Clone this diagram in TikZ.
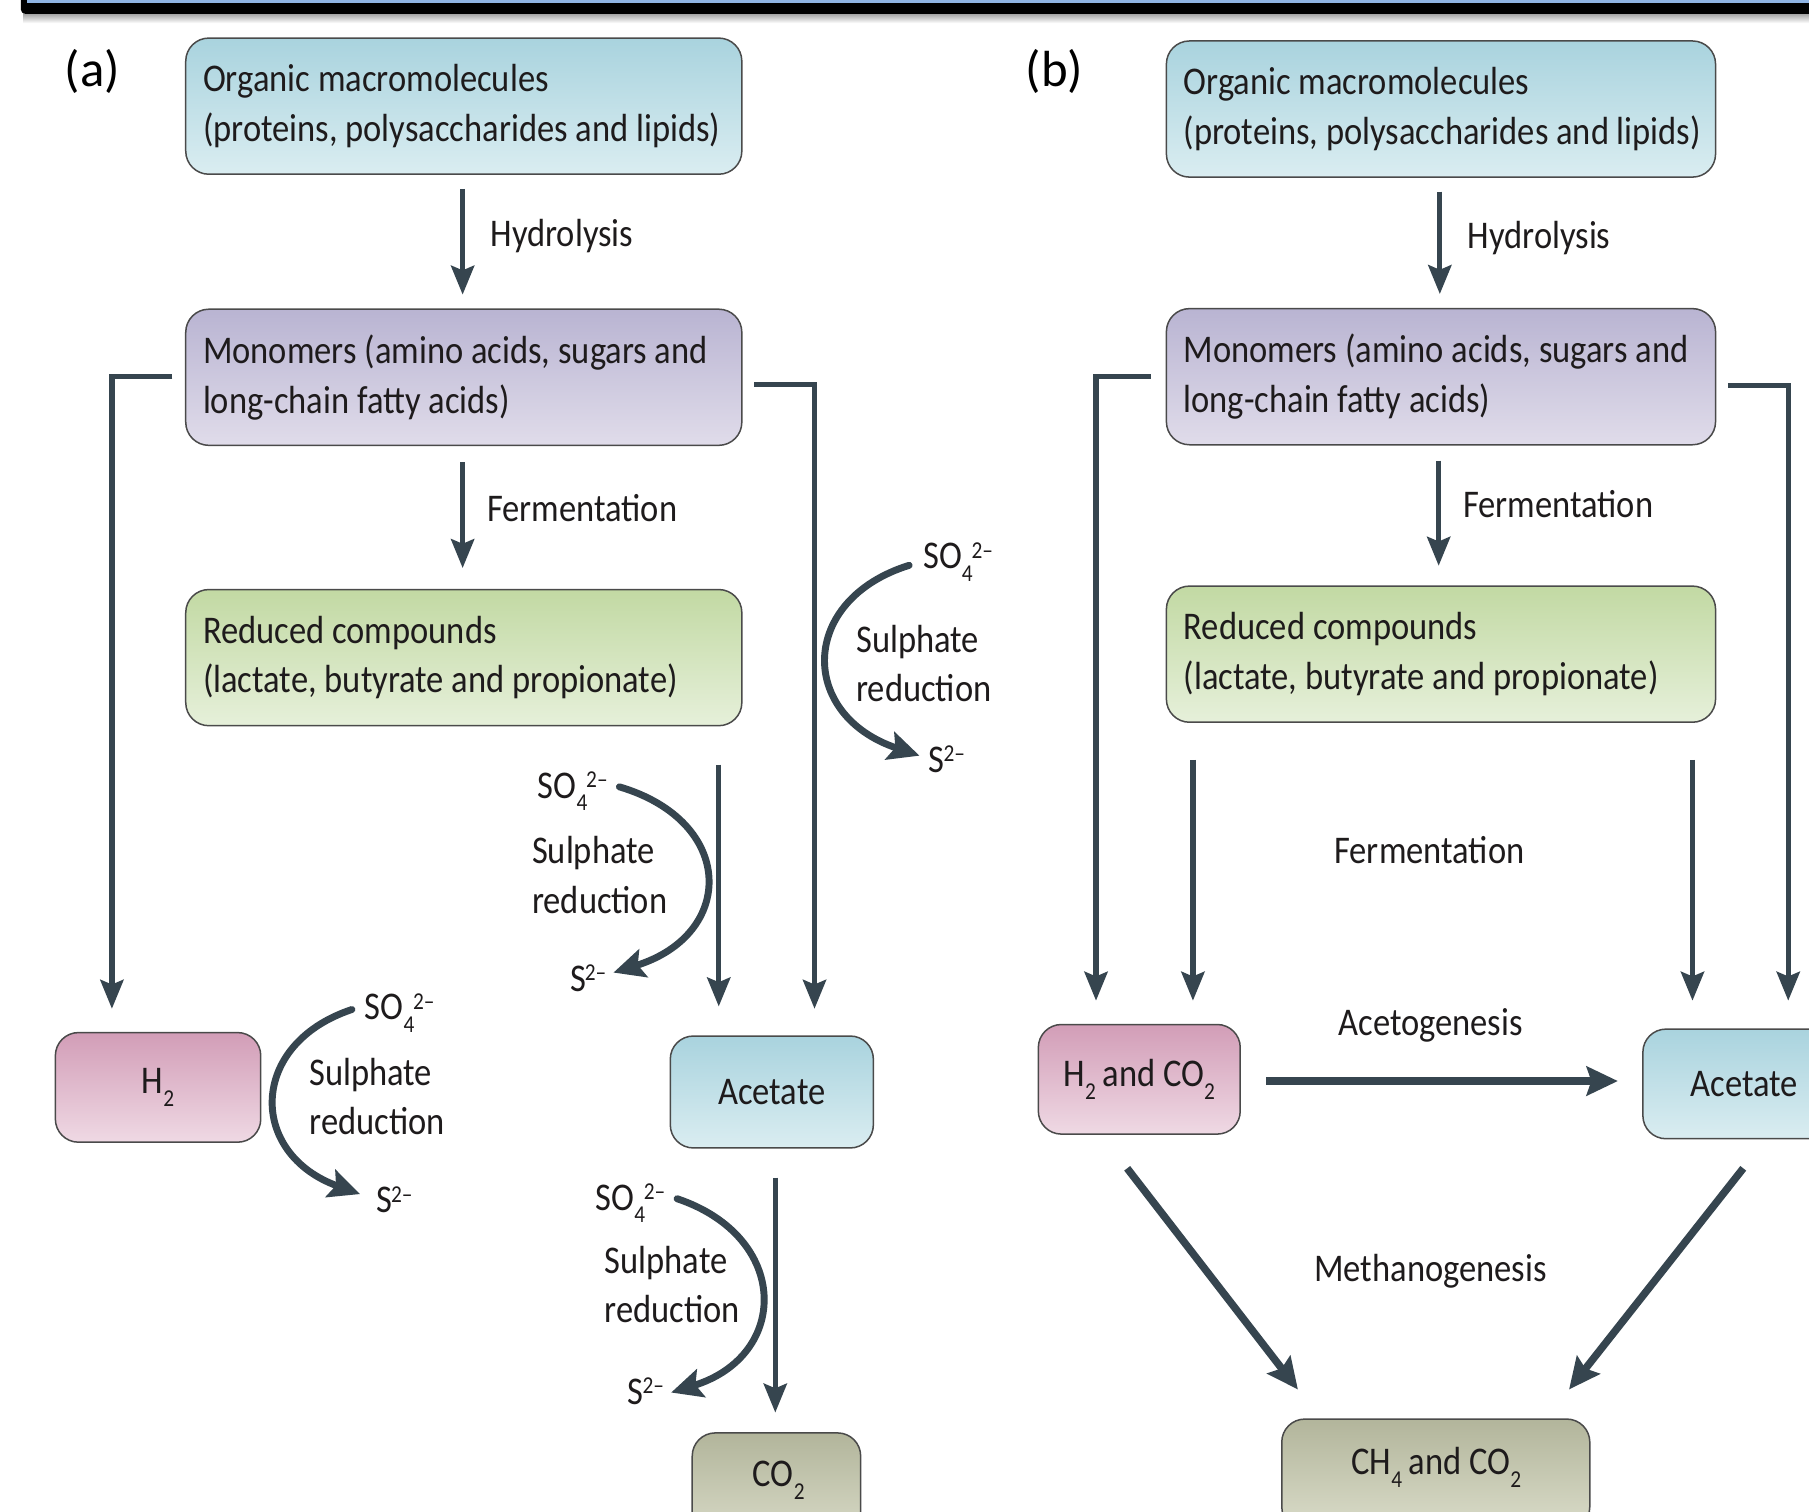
\documentclass[tikz,border=0pt]{standalone}
\usepackage{fontspec}
\setmainfont{Carlito}
\newfontfamily\dfont[FakeStretch=0.88]{Carlito}
\usetikzlibrary{arrows.meta,calc}
\definecolor{ink}{HTML}{1E1B1C}
\definecolor{arrc}{HTML}{36454F}
\definecolor{boxline}{HTML}{4A4A4A}
\definecolor{blueT}{HTML}{A9D3DE}\definecolor{blueB}{HTML}{DAEDF1}
\definecolor{purT}{HTML}{B9B4D2}\definecolor{purB}{HTML}{E0DCEA}
\definecolor{grnT}{HTML}{C2D9A3}\definecolor{grnB}{HTML}{E6F0DA}
\definecolor{pnkT}{HTML}{D29DB7}\definecolor{pnkB}{HTML}{EFD9E4}
\definecolor{oliT}{HTML}{B2B59B}\definecolor{oliB}{HTML}{DADCC9}
\definecolor{barblue}{HTML}{8FB4E3}
\newcommand{\mainfnt}{\dfont\fontsize{34}{43}\selectfont}
\newcommand{\smallfnt}{\dfont\fontsize{21}{21}\selectfont}
\newcommand{\subx}[1]{\raisebox{-11pt}{\smallfnt #1}}
\newcommand{\supx}[1]{\raisebox{9pt}{\smallfnt #1}}
\newcommand{\sofour}{SO\subx{4}\kern-1pt\supx{2–}}
\newcommand{\stwo}{S\kern-1pt\supx{2–}}
\tikzset{
  bigbox/.style={draw=boxline, line width=1.3pt, rounded corners=20pt, inner xsep=15pt, inner ysep=0pt,
    minimum height=118pt, text width=#1, align=left, font=\mainfnt, text=ink,
    execute at begin node={\spaceskip=6.8pt\relax\xspaceskip=6.8pt\relax}},
  smallbox/.style={draw=boxline, line width=1.3pt, rounded corners=20pt, inner sep=0pt, align=center,
    font=\mainfnt, text=ink},
  blueS/.style={top color=blueT, bottom color=blueB},
  purS/.style={top color=purT, bottom color=purB},
  grnS/.style={top color=grnT, bottom color=grnB},
  pnkS/.style={top color=pnkT, bottom color=pnkB},
  oliS/.style={top color=oliT, bottom color=oliB},
  lbl/.style={inner sep=0pt, font=\mainfnt, text=ink, align=left},
  arr/.style={draw=arrc, line width=4.5pt, -{Stealth[length=25pt,width=20pt,inset=4pt]}},
  garr/.style={draw=arrc, line width=6.5pt, -{Stealth[length=27pt,width=25pt,inset=4pt]}},
  curv/.style={draw=arrc, line width=6pt, line cap=round, -{Stealth[length=27pt,width=25pt,inset=5pt]}},
  brk/.style={draw=arrc, line width=4.5pt, -{Stealth[length=25pt,width=20pt,inset=4pt]}},
}
\begin{document}
\begin{tikzpicture}[x=1pt,y=-1pt]
\useasboundingbox (0,0) rectangle (1568,1310);
\clip (0,0) rectangle (1568,1310);
\fill[white] (0,0) rectangle (1568,1310);
% top bar
\shade[top color=black!45, bottom color=white] (20,10) rectangle (1600,20);
\fill[black, rounded corners=4pt] (18,-20) rectangle (1600,12);
\fill[barblue] (23,-20) rectangle (1600,3);
% labels a/b
\node[inner sep=0pt, font=\fontsize{44}{44}\selectfont, text=black] (la) at (80,62) {(a)};
\node[inner sep=0pt, font=\fontsize{44}{44}\selectfont, text=black] (lb) at (914,62) {(b)};
% ---------- panel a ----------
\node[bigbox=452pt, blueS] (oma) at (402,92) {\mbox{Organic macromolecules}\\\mbox{(proteins, polysaccharides and lipids)}};
\node[bigbox=452pt, purS] (mona) at (402,327) {\mbox{Monomers (amino acids, sugars and}\\\mbox{long-chain fatty acids)}};
\node[bigbox=452pt, grnS] (reda) at (402,570) {\mbox{Reduced compounds}\\\mbox{(lactate, butyrate and propionate)}};
\node[smallbox, pnkS, minimum width=178pt, minimum height=95pt] (h2a) at (137,942.5) {H\subx{2}};
\node[smallbox, blueS, minimum width=176pt, minimum height=97pt] (aca) at (669,946.5) {Acetate};
\node[smallbox, oliS, minimum width=146pt, minimum height=96pt] (co2a) at (673,1290) {};
\node[lbl] (co2t) at (675,1283) {CO\subx{2}};

\draw[arr] ([xshift=-1pt,yshift=-12pt]oma.south) -- ([xshift=-1pt,yshift=12pt]mona.north);
\node[lbl, anchor=west] (hyda) at (425,205) {Hydrolysis};
\draw[arr] ([xshift=-1pt,yshift=-14pt]mona.south) -- ([xshift=-1pt,yshift=18pt]reda.north);
\node[lbl, anchor=west] (ferma) at (422,440) {Fermentation};

\draw[brk] ([xshift=-11pt,yshift=1pt]mona.west) -| ([xshift=-40pt,yshift=20pt]h2a.north);
\draw[brk] ([xshift=10pt,yshift=-6pt]mona.east) -| ([xshift=37pt,yshift=23pt]aca.north);
\draw[arr] ([xshift=221pt,yshift=-33pt]reda.south) -- ([xshift=-46pt,yshift=25pt]aca.north);
\draw[arr] ([xshift=3pt,yshift=-25pt]aca.south) -- ([xshift=-1pt,yshift=17pt]co2a.north);

% sulphate reduction 1 (right)
\node[lbl, anchor=west] (so4r) at (800,487) {\sofour};
\node[lbl, anchor=west] (srr) at (742,575) {Sulphate\\reduction};
\node[lbl, anchor=west] (s2r) at (805,658) {\stwo};
\draw[curv] ([xshift=-12pt,yshift=-3pt]so4r.west) .. controls (692,520) and (692,620) .. ([xshift=-8pt,yshift=3pt]s2r.west);
% sulphate reduction 2 (H2)
\node[lbl, anchor=west] (so4h) at (316,878) {\sofour};
\node[lbl, anchor=west] (srh) at (268,950.5) {Sulphate\\reduction};
\node[lbl, anchor=west] (s2h) at (326,1040) {\stwo};
\draw[curv] ([xshift=-11pt,yshift=3pt]so4h.west) .. controls (215,905) and (215,1000) .. ([xshift=-14pt,yshift=5pt]s2h.west);
% sulphate reduction 3 (middle)
\node[lbl, anchor=west] (so4m) at (466,686) {\sofour};
\node[lbl, anchor=west] (srm) at (461,758.5) {Sulphate\\reduction};
\node[lbl, anchor=west] (s2m) at (494,848) {\stwo};
\draw[curv] ([xshift=10pt,yshift=4pt]so4m.east) .. controls (638,712) and (638,810) .. ([xshift=6pt,yshift=5pt]s2m.east);
% sulphate reduction 4 (bottom)
\node[lbl, anchor=west] (so4b) at (516,1043) {\sofour};
\node[lbl, anchor=west] (srb) at (524,1113.5) {Sulphate\\reduction};
\node[lbl, anchor=west] (s2b) at (544,1206) {\stwo};
\draw[curv] ([xshift=10pt,yshift=4pt]so4b.east) .. controls (685,1072) and (685,1175) .. ([xshift=6pt,yshift=-1pt]s2b.east);

% ---------- panel b ----------
\node[bigbox=446pt, blueS] (omb) at (1249,94.5) {\mbox{Organic macromolecules}\\\mbox{(proteins, polysaccharides and lipids)}};
\node[bigbox=446pt, purS] (monb) at (1249,326.5) {\mbox{Monomers (amino acids, sugars and}\\\mbox{long-chain fatty acids)}};
\node[bigbox=446pt, grnS] (redb) at (1249,567) {\mbox{Reduced compounds}\\\mbox{(lactate, butyrate and propionate)}};
\node[smallbox, pnkS, minimum width=175pt, minimum height=95pt] (h2b) at (987.5,935.5) {H\subx{2}\,and CO\subx{2}};
\node[smallbox, blueS, minimum width=176pt, minimum height=95pt] (acb) at (1512,939.5) {Acetate};
\node[smallbox, oliS, minimum width=267pt, minimum height=96pt] (ch4) at (1244.5,1278) {};
\node[lbl] (ch4t) at (1245,1272) {CH\subx{4}\,and CO\subx{2}};

\draw[arr] ([xshift=-1pt,yshift=-12pt]omb.south) -- ([xshift=-1pt,yshift=12pt]monb.north);
\node[lbl, anchor=west] (hydb) at (1272,206) {Hydrolysis};
\draw[arr] ([xshift=-2pt,yshift=-13pt]monb.south) -- ([xshift=-2pt,yshift=17pt]redb.north);
\node[lbl, anchor=west] (fermb) at (1268,437) {Fermentation};

\draw[brk] ([xshift=-13pt,yshift=0.5pt]monb.west) -| ([xshift=-37.5pt,yshift=20pt]h2b.north);
\draw[brk] ([xshift=10pt,yshift=-7.5pt]monb.east) -| ([xshift=38pt,yshift=24pt]acb.north);
\draw[arr] ([xshift=-215pt,yshift=-32pt]redb.south) -- ([xshift=46.5pt,yshift=20pt]h2b.north);
\draw[arr] ([xshift=218pt,yshift=-32pt]redb.south) -- ([xshift=-45pt,yshift=24pt]acb.north);
\node[lbl] (fermm) at (1239,737) {Fermentation};

\draw[garr] ([xshift=22pt,yshift=-1.5pt]h2b.east) -- ([xshift=-21pt,yshift=2.5pt]acb.west);
\node[lbl] (acet) at (1240,889) {Acetogenesis};
\draw[garr] ([xshift=-10.5pt,yshift=-29pt]h2b.south) -- ([xshift=-119.5pt,yshift=25pt]ch4.north);
\draw[garr] ([xshift=-1pt,yshift=-25pt]acb.south) -- ([xshift=115.5pt,yshift=25pt]ch4.north);
\node[lbl] (meth) at (1240,1102) {Methanogenesis};
\end{tikzpicture}
\end{document}
